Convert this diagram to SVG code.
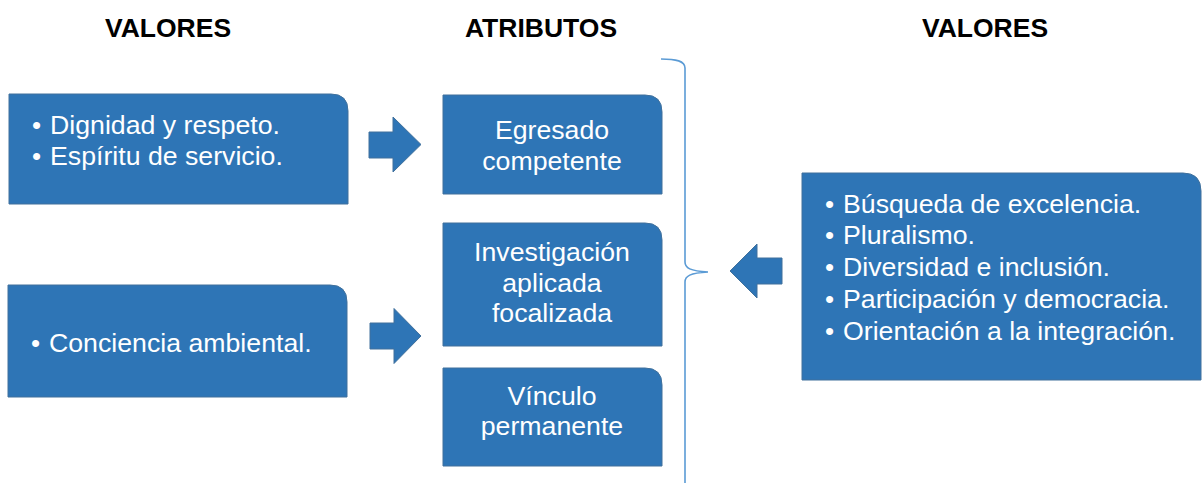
<svg xmlns="http://www.w3.org/2000/svg" width="1202" height="483" viewBox="0 0 1202 483">
<style>
.box{fill:#2E75B6;stroke:#41719C;stroke-width:1}
.arrow{fill:#2E75B6;stroke:#41719C;stroke-width:1}
.hdr{font-family:"Liberation Sans",Arial,sans-serif;font-weight:bold;font-size:26.5px;fill:#000;text-anchor:middle}
.t{font-family:"Liberation Sans",Arial,sans-serif;font-size:26.7px;fill:#fff}
.b{font-size:26px}
.c{text-anchor:middle}
.brace{fill:none;stroke:#5B9BD5;stroke-width:1.6}
</style>
<rect width="1202" height="483" fill="#fff"/>
<g id="headers">
<text class="hdr" x="168" y="37">VALORES</text>
<text class="hdr" x="541" y="37">ATRIBUTOS</text>
<text class="hdr" x="985" y="37">VALORES</text>
</g>
<g id="node-valores1">
<path class="box" d="M9,94 H331 Q348,94 348,111 V204 H9 Z"/>
<text class="t b" x="32" y="134">•</text><text class="t" x="50" y="134">Dignidad y respeto.</text>
<text class="t b" x="32" y="165">•</text><text class="t" x="50" y="165">Espíritu de servicio.</text>
</g>
<g id="node-valores2">
<path class="box" d="M8,285 H330 Q347,285 347,302 V397 H8 Z"/>
<text class="t b" x="31" y="352">•</text><text class="t" x="49" y="352">Conciencia ambiental.</text>
</g>
<g id="node-egresado">
<path class="box" d="M443,95 H645 Q662,95 662,112 V194 H443 Z"/>
<text class="t c" x="552" y="139">Egresado</text>
<text class="t c" x="552" y="170">competente</text>
</g>
<g id="node-investigacion">
<path class="box" d="M443,223 H645 Q662,223 662,240 V346 H443 Z"/>
<text class="t c" x="552" y="261">Investigación</text>
<text class="t c" x="552" y="292">aplicada</text>
<text class="t c" x="552" y="322">focalizada</text>
</g>
<g id="node-vinculo">
<path class="box" d="M443,368 H645 Q662,368 662,385 V466 H443 Z"/>
<text class="t c" x="552" y="405">Vínculo</text>
<text class="t c" x="552" y="435">permanente</text>
</g>
<g id="node-valores3">
<path class="box" d="M802,173 H1183 Q1201,173 1201,191 V380 H802 Z"/>
<text class="t b" x="825" y="213">•</text><text class="t" x="843" y="213">Búsqueda de excelencia.</text>
<text class="t b" x="825" y="244">•</text><text class="t" x="843" y="244">Pluralismo.</text>
<text class="t b" x="825" y="276">•</text><text class="t" x="843" y="276">Diversidad e inclusión.</text>
<text class="t b" x="825" y="308">•</text><text class="t" x="843" y="308">Participación y democracia.</text>
<text class="t b" x="825" y="340">•</text><text class="t" x="843" y="340">Orientación a la integración.</text>
</g>
<g id="connectors">
<polygon class="arrow" points="369,132 393,132 393,117 421,144.5 393,172 393,158 369,158"/>
<polygon class="arrow" points="370,323 394,323 394,308.5 421,336 394,363.5 394,349 370,349"/>
<polygon class="arrow" points="782,258 757,258 757,244 730,271 757,298 757,284 782,284"/>
<path class="brace" d="M661,59 C676,59 685,61 685,68 L685,262 C685,268 690,271 708,272 C690,273 685,276 685,282 L685,485"/>
</g>
</svg>
